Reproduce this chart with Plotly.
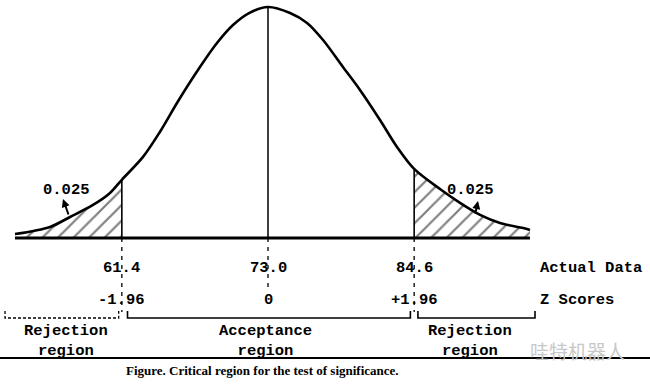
import plotly.graph_objects as go

# ---------------- data ----------------
curve_x = [52.92, 55.70, 57.29, 59.11, 60.46, 61.4, 63.08, 64.43, 65.86, 67.60, 68.95,
           70.22, 71.57, 73.0, 74.75, 76.10, 77.37, 78.95, 80.30, 81.89, 83.24, 84.6,
           86.65, 88.24, 89.83, 91.41, 93.56, 93.79]
curve_y = [0.017, 0.048, 0.091, 0.143, 0.195, 0.252, 0.351, 0.460, 0.592, 0.740, 0.844,
           0.922, 0.976, 1.000, 0.974, 0.931, 0.857, 0.740, 0.641, 0.511, 0.394, 0.299,
           0.212, 0.152, 0.100, 0.065, 0.039, 0.035]
mean_value = 73.0
critical_values = [61.4, 84.6]
actual_labels = ["61.4", "73.0", "84.6"]
z_labels = ["-1.96", "0", "+1.96"]
tail_prob_label = "0.025"
region_labels = ["Rejection<br>region", "Acceptance<br>region", "Rejection<br>region"]
row_labels = ["Actual Data", "Z Scores"]
caption = "Figure. Critical region for the test of significance."
watermark = "哇特机器人"

# ---------------- geometry helpers (pixel -> axis units) ----------------
PX_PER_UNIT = 12.6
def X(px):
    return mean_value + (px - 268) / PX_PER_UNIT
def Y(py):
    return (238 - py) / 231.0

MONO = "Liberation Mono"
INK = "#000000"

fig = go.Figure()

# tails with hatching
lo, hi = critical_values
lx = [x for x in curve_x if x <= lo]
ly = [y for x, y in zip(curve_x, curve_y) if x <= lo]
rx = [x for x in curve_x if x >= hi]
ry = [y for x, y in zip(curve_x, curve_y) if x >= hi]
for tx, ty in [(lx, ly), (rx, ry)]:
    fig.add_trace(go.Scatter(
        x=tx, y=ty, mode="lines", line=dict(width=0, shape="spline", smoothing=0.9),
        fill="tozeroy", fillcolor="rgba(255,255,255,0)",
        fillpattern=dict(shape="/", fgcolor="#000000", bgcolor="white", size=11,
                         solidity=0.2, fillmode="overlay"),
        hoverinfo="skip", showlegend=False))

# bell curve
fig.add_trace(go.Scatter(x=curve_x, y=curve_y, mode="lines",
                         line=dict(color=INK, width=2.6, shape="spline", smoothing=0.9),
                         hoverinfo="skip", showlegend=False))

# baseline
fig.add_shape(type="line", x0=curve_x[0], x1=curve_x[-1], y0=0, y1=0,
              line=dict(color=INK, width=3))
# mean line
fig.add_shape(type="line", x0=mean_value, x1=mean_value, y0=0, y1=max(curve_y),
              line=dict(color=INK, width=1.5))
# critical lines
for cv in critical_values:
    h = curve_y[curve_x.index(cv)]
    fig.add_shape(type="line", x0=cv, x1=cv, y0=0, y1=h, line=dict(color=INK, width=1.6))

# dashed drop lines below baseline
for v, bottom in [(lo, Y(312)), (mean_value, Y(292)), (hi, Y(312))]:
    fig.add_shape(type="line", x0=v, x1=v, y0=0, y1=bottom,
                  line=dict(color=INK, width=1.3, dash="4px,5px"))

def label(x, y, text, **kw):
    opts = dict(showarrow=False, xanchor="center", yanchor="middle",
                font=dict(family=MONO, size=15.5, color=INK, weight="bold"))
    opts.update(kw)
    fig.add_annotation(x=x, y=y, text=text, **opts)

# value labels
for v, a, z in zip([lo, mean_value, hi], actual_labels, z_labels):
    label(v, Y(268), a)
    label(v, Y(300), z)
for lab, py in zip(row_labels, [268, 300]):
    label(X(538), Y(py), lab, xanchor="left")

# brackets
def bracket(x0, x1, dash="solid", width=1.6):
    yb, yt = Y(318), Y(311)
    fig.add_shape(type="path",
                  path=f"M {x0},{yt} L {x0},{yb} L {x1},{yb} L {x1},{yt}",
                  line=dict(color=INK, width=width, dash=dash))

bracket(X(5), lo - 0.25, dash="3px,2px", width=1.3)
bracket(lo + 0.45, hi - 0.3)
bracket(hi + 0.3, X(535))

for cx, lab in zip([X(66), X(265), X(470)], region_labels):
    label(cx, Y(341), lab)

# tail probability labels + arrows
for tx_px, head, tail in [(66, (63, 199), (69, 216)), (470, (478, 201), (475, 215))]:
    label(X(tx_px), Y(190), tail_prob_label)
    fig.add_annotation(x=X(head[0]), y=Y(head[1]), ax=X(tail[0]), ay=Y(tail[1]),
                       axref="x", ayref="y", text="", showarrow=True,
                       arrowhead=2, arrowsize=0.8, arrowwidth=2, arrowcolor=INK)

# bottom rule, watermark and caption
fig.add_shape(type="line", xref="paper", yref="paper", x0=0, x1=1,
              y0=1 - 358 / 387, y1=1 - 358 / 387, line=dict(color=INK, width=2))
fig.add_annotation(xref="paper", yref="paper", x=577 / 650, y=1 - 350 / 387,
                   xanchor="center", yanchor="middle",
                   text=watermark, showarrow=False,
                   font=dict(family="Noto Sans CJK SC", size=19, color="#c8c8c8"))
fig.add_annotation(xref="paper", yref="paper", x=262 / 650, y=1 - 370 / 387,
                   xanchor="center", yanchor="middle",
                   text=f"<b>{caption}</b>", showarrow=False,
                   font=dict(family="Liberation Serif", size=13, color=INK))

fig.update_layout(
    width=650, height=387, margin=dict(l=0, r=0, t=0, b=0),
    paper_bgcolor="white", plot_bgcolor="white", showlegend=False,
    xaxis=dict(range=[X(0), X(650)], visible=False, fixedrange=True),
    yaxis=dict(range=[Y(387), Y(0)], visible=False, fixedrange=True),
)

fig.write_html("out.html", config={"displayModeBar": False},
               post_script="document.body.style.margin='0';document.body.style.padding='0';")
